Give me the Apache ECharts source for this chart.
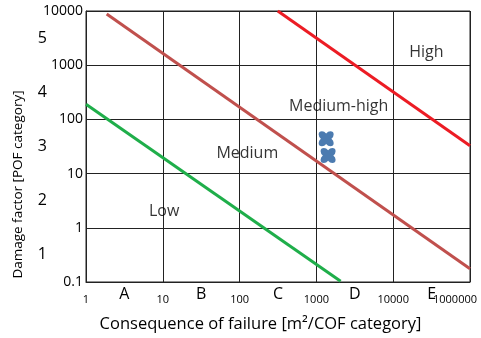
<!DOCTYPE html>
<html>
<head>
<meta charset="utf-8">
<script src="https://cdn.jsdelivr.net/npm/echarts@6/dist/echarts.min.js"></script>
<style>html,body{margin:0;padding:0;background:#fff}#c{width:481px;height:338px}</style>
</head>
<body>
<div id="c"></div>
<script>
// ---- data ----
const xTickLabels = ['1', '10', '100', '1000', '10000', '1000000'];
const yTickLabels = ['0.1', '1', '10', '100', '1000', '10000'];
const cofCategories = ['A', 'B', 'C', 'D', 'E'];
const pofCategories = ['1', '2', '3', '4', '5'];
const lowLine = [[1, 190], [2070, 0.103]];
const mediumLine = [[1.86, 8800], [100000, 0.175]];
const highLine = [[314, 10000], [100000, 32.7]];
const points = [[1340, 44], [1420, 21.6]];
const regionNames = ['Low', 'Medium', 'Medium-high', 'High'];
const regionPos = [[10.4, 2.03], [126, 23.4], [1950, 170], [27000, 1700]];

const FONT = 'Open Sans';
const TXT = '#000';
const chart = echarts.init(document.getElementById('c'), null, {renderer: 'canvas'});
const lineStyle = (c) => ({color: c, width: 3});
const quatrefoil = 'path://M5,1.5 Q6.2,0 7.8,0 Q10,0 10,2.2 Q10,3.8 8.5,5 Q10,6.2 10,7.8 ' +
  'Q10,10 7.8,10 Q6.2,10 5,8.5 Q3.8,10 2.2,10 Q0,10 0,7.8 Q0,6.2 1.5,5 ' +
  'Q0,3.8 0,2.2 Q0,0 2.2,0 Q3.8,0 5,1.5 Z';

chart.setOption({
  animation: false,
  backgroundColor: '#fff',
  grid: {left: 86, right: 11, top: 11, bottom: 54, show: true, borderColor: '#222', borderWidth: 1},
  xAxis: [{
    type: 'log', logBase: 10, min: 1, max: 100000,
    name: 'Consequence of failure [m²/COF category]',
    nameLocation: 'middle', nameGap: 34,
    nameTextStyle: {fontFamily: FONT, fontSize: 16.5, color: TXT, padding: [0, 35, 0, 0]},
    axisLine: {show: true, lineStyle: {color: '#222', width: 1}},
    axisTick: {show: false},
    splitLine: {show: true, lineStyle: {color: '#222', width: 1}},
    minorTick: {show: false}, minorSplitLine: {show: false},
    axisLabel: {
      fontFamily: FONT, fontSize: 11, color: TXT, margin: 12,
      formatter: (v) => {
        const i = Math.round(Math.log10(v));
        return i === 5 ? '{last|' + xTickLabels[i] + '}' : xTickLabels[i];
      },
      rich: {last: {fontFamily: FONT, fontSize: 11, color: TXT, padding: [0, 30, 0, 0]}}
    }
  }, {
    type: 'category', data: cofCategories, position: 'bottom', boundaryGap: true,
    axisLine: {show: false}, axisTick: {show: false}, splitLine: {show: false},
    axisLabel: {fontFamily: FONT, fontSize: 16, color: TXT, margin: 4}
  }],
  yAxis: [{
    type: 'log', logBase: 10, min: 0.1, max: 10000,
    name: 'Damage factor [POF category]',
    nameLocation: 'middle', nameGap: 61, nameRotate: 90,
    nameTextStyle: {fontFamily: FONT, fontSize: 13.5, color: TXT, padding: [0, 76, 0, 0]},
    axisLine: {show: true, lineStyle: {color: '#222', width: 1}},
    axisTick: {show: false},
    splitLine: {show: true, lineStyle: {color: '#222', width: 1}},
    axisLabel: {
      fontFamily: FONT, fontSize: 14, color: TXT, margin: 3,
      formatter: (v) => yTickLabels[Math.round(Math.log10(v)) + 1]
    }
  }, {
    type: 'category', data: pofCategories, position: 'left', boundaryGap: true,
    axisLine: {show: false}, axisTick: {show: false}, splitLine: {show: false},
    axisLabel: {fontFamily: FONT, fontSize: 16, color: TXT, margin: 39, padding: [9, 0, 0, 0]}
  }],
  series: [
    {type: 'line', data: lowLine, symbol: 'none', lineStyle: lineStyle('#1fae4a'), z: 3},
    {type: 'line', data: mediumLine, symbol: 'none', lineStyle: lineStyle('#c0504d'), z: 3},
    {type: 'line', data: highLine, symbol: 'none', lineStyle: lineStyle('#ec1c24'), z: 3},
    {
      type: 'scatter', data: points, z: 4,
      symbol: quatrefoil,
      symbolSize: 15, itemStyle: {color: '#1f5a9c'}
    },
    {
      type: 'scatter', z: 5, symbolSize: 0, silent: true,
      data: regionNames.map((n, i) => ({name: n, value: regionPos[i]})),
      label: {show: true, position: 'inside', formatter: (p) => p.name,
              fontFamily: FONT, fontSize: 16, color: TXT}
    }
  ]
});
</script>
</body>
</html>
